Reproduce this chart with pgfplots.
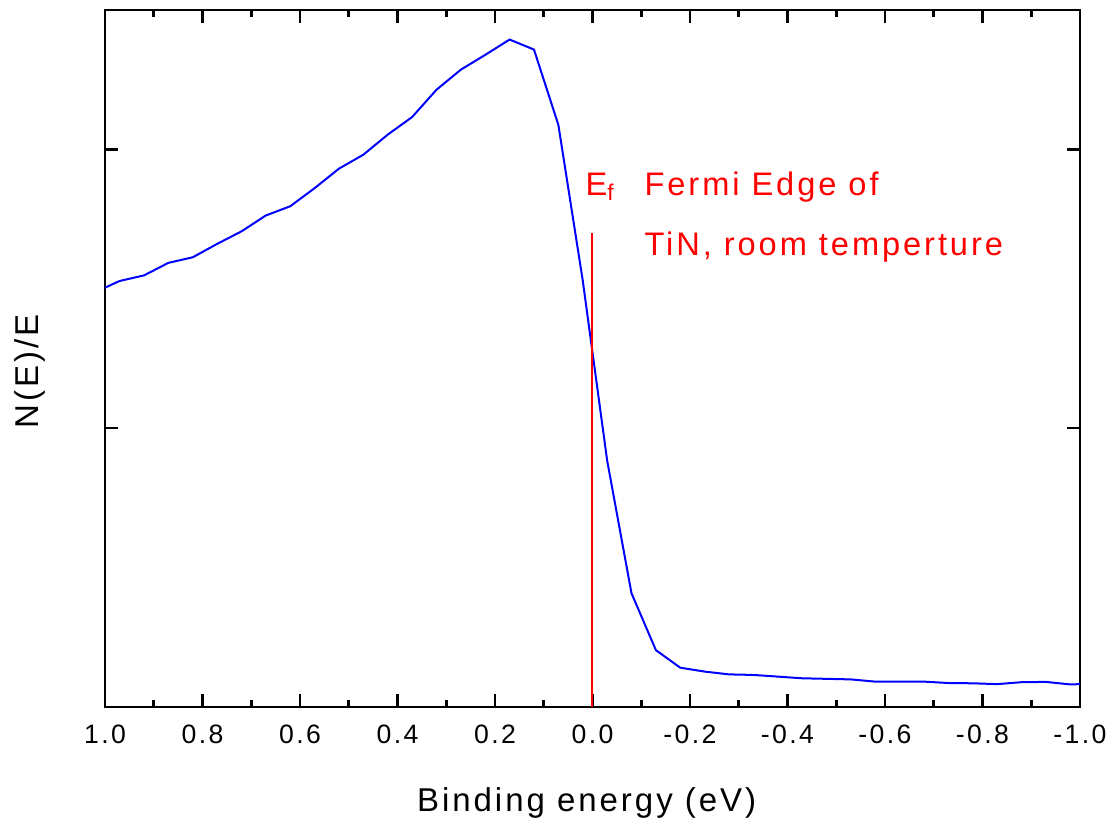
\documentclass[border=0pt]{standalone}
\usepackage{fontspec}
\setmainfont{Liberation Sans}[LetterSpace=9]
\usepackage{pgfplots}
\pgfplotsset{compat=1.18}

% N(E)/E spectrum near the Fermi edge
\pgfplotstableread{
x y
1.00 1.504
0.97 1.528
0.92 1.548
0.87 1.593
0.82 1.613
0.77 1.661
0.72 1.706
0.67 1.763
0.62 1.796
0.57 1.861
0.52 1.931
0.47 1.981
0.42 2.053
0.37 2.116
0.32 2.214
0.27 2.286
0.22 2.339
0.17 2.394
0.12 2.358
0.07 2.088
0.02 1.530
-0.03 0.885
-0.08 0.408
-0.13 0.204
-0.18 0.141
-0.23 0.127
-0.28 0.117
-0.33 0.115
-0.38 0.109
-0.43 0.103
-0.48 0.101
-0.53 0.099
-0.58 0.091
-0.63 0.091
-0.68 0.091
-0.73 0.086
-0.78 0.085
-0.83 0.082
-0.88 0.089
-0.93 0.090
-0.98 0.081
-1.00 0.082
}\spectrum

\begin{document}
\begin{tikzpicture}
\begin{axis}[
  scale only axis,
  width=487.5pt, height=348.5pt,
  x dir=reverse,
  xmin=-1, xmax=1, ymin=0, ymax=2.5,
  axis line style={line width=1.3pt},
  xtick={1,0.8,0.6,0.4,0.2,0,-0.2,-0.4,-0.6,-0.8,-1},
  xticklabels={1.0,0.8,0.6,0.4,0.2,0.0,-0.2,-0.4,-0.6,-0.8,-1.0},
  minor x tick num=1,
  ytick={1,2}, yticklabels={},
  tick align=inside,
  major tick length=6.5pt, minor tick length=3.5pt,
  every tick/.style={black, line width=1.3pt},
  /pgf/number format/assume math mode=true,
  xticklabel style={font=\fontsize{13.3}{16}\selectfont, anchor=base, inner sep=0pt, yshift=-18.5pt},
  xlabel={Binding energy (eV)},
  ylabel={N(E)/E},
  label style={font=\fontsize{16.5}{20}\selectfont},
  xlabel style={at={(axis description cs:0.494,-0.1506)}, anchor=base},
  ylabel style={at={(axis description cs:-0.0769,0.481)}, anchor=center},
]
\addplot[blue, line width=1pt, mark=none] table[x=x, y=y] {\spectrum};
\addplot[red, line width=1pt, mark=none] coordinates {(0,0) (0,1.70)};
\node[red, anchor=base west, inner sep=0pt, font=\fontsize{16.3}{20}\selectfont]
  at (axis cs:0.015,1.835) {E\textsubscript{f}};
\node[red, anchor=base west, inner sep=0pt, font=\fontsize{16.3}{20}\selectfont]
  at (axis cs:-0.106,1.835) {Fermi Edge of};
\node[red, anchor=base west, inner sep=0pt, font=\fontsize{16.3}{20}\selectfont]
  at (axis cs:-0.106,1.620) {TiN, room temperture};
\end{axis}
\pgfresetboundingbox
\path[use as bounding box] (-52.5pt,-58.5pt) rectangle (501.5pt,353.5pt);
\end{tikzpicture}
\end{document}
